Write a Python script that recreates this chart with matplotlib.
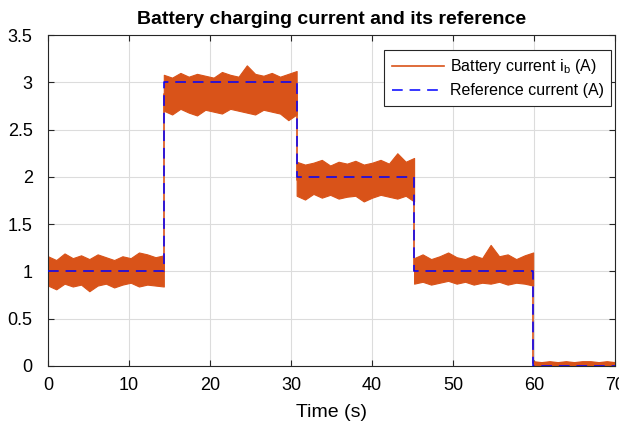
import numpy as np
import matplotlib
matplotlib.use('Agg')
import matplotlib.pyplot as plt

plt.rcParams['font.family'] = ['Liberation Sans', 'DejaVu Sans']
plt.rcParams['mathtext.default'] = 'regular'

# step times (s) and reference levels (A)
t_steps = [0, 14.3, 30.7, 45.2, 59.9, 70]
ref_levels = [1, 3, 2, 1, 0]
# mean measured current per step (A)
cur_means = [0.99, 2.88, 1.97, 1.00, 0.03]

# noise envelope of the measured current, read roughly per second
upper = [
    [1.16, 1.12, 1.19, 1.14, 1.17, 1.13, 1.18, 1.15, 1.12, 1.16, 1.14, 1.20, 1.18, 1.15, 1.17],
    [3.08, 3.05, 3.10, 3.06, 3.09, 3.07, 3.05, 3.11, 3.08, 3.06, 3.18, 3.09, 3.07, 3.10, 3.06, 3.09, 3.12],
    [2.16, 2.13, 2.15, 2.18, 2.12, 2.16, 2.14, 2.17, 2.13, 2.15, 2.18, 2.14, 2.25, 2.16, 2.20],
    [1.14, 1.18, 1.13, 1.16, 1.20, 1.15, 1.13, 1.17, 1.14, 1.28, 1.16, 1.18, 1.13, 1.17, 1.20],
    [0.05, 0.04, 0.05, 0.04, 0.05, 0.04, 0.05, 0.05, 0.04, 0.05, 0.04],
]
lower = [
    [0.85, 0.81, 0.87, 0.84, 0.86, 0.79, 0.85, 0.87, 0.83, 0.86, 0.88, 0.84, 0.86, 0.85, 0.84],
    [2.70, 2.66, 2.72, 2.68, 2.65, 2.71, 2.69, 2.67, 2.72, 2.70, 2.68, 2.66, 2.71, 2.69, 2.67, 2.60, 2.66],
    [1.80, 1.76, 1.82, 1.78, 1.81, 1.77, 1.79, 1.80, 1.74, 1.78, 1.81, 1.79, 1.77, 1.80, 1.74],
    [0.87, 0.89, 0.86, 0.88, 0.90, 0.87, 0.89, 0.86, 0.88, 0.87, 0.89, 0.86, 0.88, 0.87, 0.85],
    [0.01, 0.01, 0.01, 0.01, 0.01, 0.01, 0.01, 0.01, 0.01, 0.01, 0.01],
]

orange = '#D95319'
blue = '#0000FF'

fig = plt.figure(figsize=(6.19, 4.23), dpi=100)
ax = fig.add_axes([0.0775, 0.135, 0.916, 0.782])

# noisy band of the battery current
for i in range(len(ref_levels)):
    ts = np.linspace(t_steps[i], t_steps[i + 1], len(upper[i]))
    ax.fill_between(ts, lower[i], upper[i], color=orange, lw=0.8, zorder=2)

# current step path (joins the segments)
ax.step(t_steps, cur_means + [cur_means[-1]], where='post', color=orange,
        lw=1.2, zorder=2, label='Battery current $i_b$ (A)')

# reference
ax.step(t_steps, ref_levels + [ref_levels[-1]], where='post', color=blue,
        lw=1.1, dashes=(7, 4.5), zorder=3, label='Reference current (A)')

ax.set_xlim(0, 70)
ax.set_ylim(0, 3.5)
ax.set_xticks(np.arange(0, 71, 10))
ax.set_yticks(np.arange(0, 3.51, 0.5))
ax.set_yticklabels(['0', '0.5', '1', '1.5', '2', '2.5', '3', '3.5'])
ax.grid(True, color='#DCDCDC', lw=0.8)
ax.set_axisbelow(True)
ax.tick_params(direction='in', top=True, right=True, labelsize=13,
               color='#262626', length=4)
ax.tick_params(axis='x', pad=8)
ax.tick_params(axis='y', pad=11)
for s in ax.spines.values():
    s.set_color('#262626')
    s.set_linewidth(0.8)

ax.set_title('Battery charging current and its reference', fontsize=14,
             fontweight='bold', pad=8)
ax.set_xlabel('Time (s)', fontsize=14, labelpad=7)

leg = ax.legend(loc='upper right', fontsize=11.5, fancybox=False,
                framealpha=1, edgecolor='#262626', borderpad=0.45,
                handlelength=3.3, handletextpad=0.35, labelspacing=0.45,
                borderaxespad=0, bbox_to_anchor=(0.993, 0.955))
leg.get_frame().set_linewidth(0.8)

fig.savefig('out.png', dpi=100)
